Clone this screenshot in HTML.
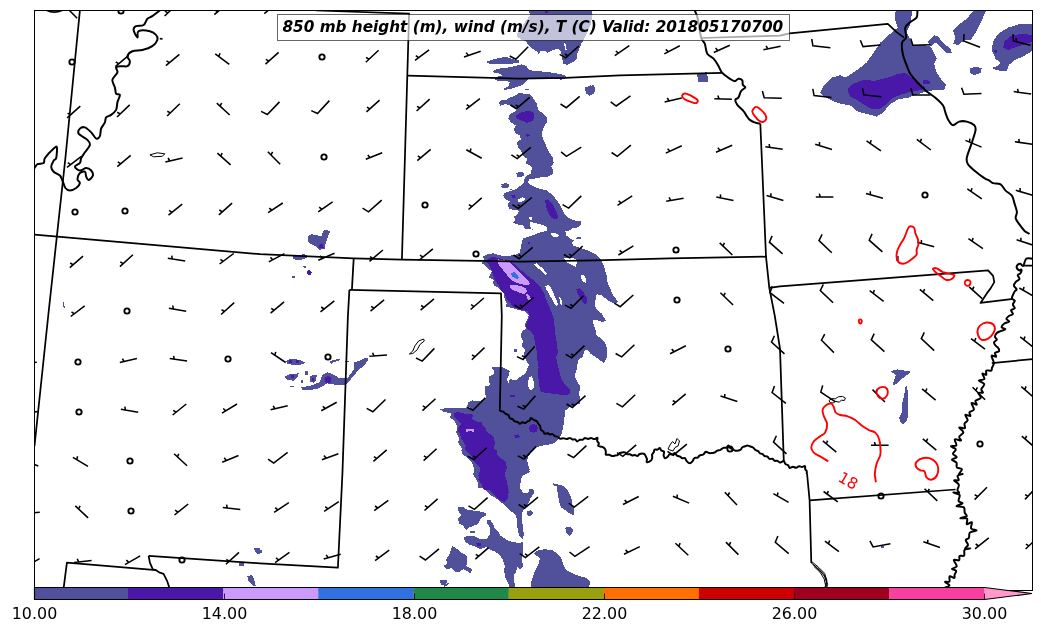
<!DOCTYPE html>
<html><head><meta charset="utf-8"><title>850 mb</title>
<style>html,body{margin:0;padding:0;background:#fff;overflow:hidden}body{width:1041px;height:633px;position:relative}</style></head>
<body>
<svg width="1041" height="633" viewBox="0 0 1041 633" style="position:absolute;left:0;top:0;will-change:transform">
<rect width="1041" height="633" fill="#fff"/>
<defs><clipPath id="ax"><rect x="34.5" y="10.5" width="998" height="580"/></clipPath></defs>
<g clip-path="url(#ax)">
<path d="M528.9 9.1 L529.9 15.2 L524.9 22.2 L517.8 32.3 L516.8 36.4 L520.8 39.4 L525.9 41.4 L528.9 45.5 L532.0 48.5 L537.0 51.5 L539.0 54.6 L540.0 50.5 L545.1 50.5 L547.1 53.0 L552.2 50.5 L558.2 48.5 L561.3 52.5 L562.3 58.6 L563.3 63.7 L567.3 65.1 L573.4 61.6 L577.4 58.6 L577.0 53.6 L579.5 48.5 L581.5 43.5 L585.5 36.4 L590.6 24.3 L592.6 14.1 L591.6 9.1 Z" fill="#50509b" fill-rule="evenodd" shape-rendering="crispEdges"/>
<path d="M486.9 61.6 L492.5 59.6 L500.6 57.6 L506.7 57.2 L513.8 59.6 L519.8 60.6 L518.8 63.1 L510.7 63.7 L500.6 64.3 L492.5 64.3 L487.5 63.1 Z" fill="#50509b" fill-rule="evenodd" shape-rendering="crispEdges"/>
<path d="M493.0 70.7 L498.6 68.7 L506.7 67.7 L516.8 65.7 L521.9 64.3 L525.9 65.7 L528.9 69.7 L535.0 71.1 L545.1 71.7 L555.2 73.2 L565.3 75.2 L566.9 77.8 L561.3 79.8 L553.2 78.4 L541.1 77.8 L535.0 78.4 L528.9 77.8 L526.9 80.8 L522.9 84.9 L516.8 86.9 L510.7 88.9 L504.7 89.9 L503.7 88.9 L508.7 85.9 L509.7 81.9 L504.7 80.8 L498.6 80.8 L494.6 79.8 L496.6 76.8 L502.7 75.2 L498.6 73.2 L493.6 72.4 Z" fill="#50509b" fill-rule="evenodd" shape-rendering="crispEdges"/>
<path d="M524.9 88.5 L528.9 88.5 L528.9 89.5 L524.9 89.5 Z" fill="#50509b" fill-rule="evenodd" shape-rendering="crispEdges"/>
<path d="M585.1 88.9 L588.5 85.9 L593.6 85.3 L595.2 88.9 L593.6 93.4 L589.6 95.4 L585.9 93.0 Z" fill="#50509b" fill-rule="evenodd" shape-rendering="crispEdges"/>
<path d="M519.8 92.4 L524.9 94.0 L529.9 94.4 L534.0 99.1 L537.0 104.1 L538.0 110.2 L543.1 113.2 L547.1 117.3 L546.7 122.3 L544.1 126.4 L542.1 132.4 L542.7 138.5 L545.1 142.5 L547.1 148.6 L550.1 153.7 L553.2 157.7 L553.6 162.8 L551.2 166.8 L553.2 170.8 L552.8 173.9 L548.1 176.5 L541.1 177.3 L535.0 178.5 L529.9 178.9 L527.9 182.0 L528.9 185.0 L534.0 188.0 L540.0 189.0 L546.1 190.0 L550.1 193.1 L554.2 197.1 L558.2 202.2 L561.3 208.2 L564.3 215.3 L565.3 217.9 L513.8 217.9 L517.8 213.3 L519.8 209.2 L514.8 208.2 L509.7 209.2 L507.7 205.2 L510.7 201.2 L506.7 200.1 L503.1 197.1 L506.7 194.1 L512.8 192.1 L517.8 189.0 L521.9 186.0 L524.9 184.0 L523.9 179.9 L525.9 175.9 L530.9 173.9 L532.0 167.8 L528.9 164.8 L525.9 163.8 L526.9 158.7 L522.9 155.7 L520.8 150.6 L517.8 146.6 L516.8 142.5 L520.8 139.5 L519.8 135.5 L515.8 133.5 L513.8 129.4 L515.8 125.4 L510.7 122.3 L508.3 118.3 L509.7 114.3 L513.8 112.2 L517.8 109.2 L513.8 107.2 L509.7 105.2 L504.7 104.1 L500.6 105.8 L499.0 103.1 L500.6 100.5 L505.7 100.1 L509.7 97.7 L514.8 95.7 Z" fill="#50509b" fill-rule="evenodd" shape-rendering="crispEdges"/>
<path d="M516.4 173.3 L519.8 171.9 L523.3 172.5 L523.9 175.3 L520.8 177.3 L517.2 176.5 Z" fill="#50509b" fill-rule="evenodd" shape-rendering="crispEdges"/>
<path d="M501.0 186.0 L504.7 183.4 L508.7 184.0 L509.7 186.0 L505.7 188.4 L502.2 188.0 Z" fill="#50509b" fill-rule="evenodd" shape-rendering="crispEdges"/>
<path d="M509.7 189.0 L511.7 189.0 L511.7 190.0 L509.7 190.0 Z" fill="#50509b" fill-rule="evenodd" shape-rendering="crispEdges"/>
<path d="M526.9 180.0 L528.9 184.0 L535.0 187.1 L541.1 189.1 L547.1 191.1 L551.2 195.2 L556.2 199.2 L561.3 207.3 L564.3 213.3 L569.3 218.4 L574.4 220.4 L580.5 221.4 L581.1 224.5 L577.4 227.5 L572.4 228.5 L569.3 230.5 L565.3 231.5 L566.3 235.6 L570.4 238.6 L574.4 240.6 L571.4 242.7 L573.4 245.7 L579.5 247.7 L585.5 249.7 L590.6 251.7 L595.6 254.4 L599.7 257.8 L602.7 262.9 L604.7 268.9 L606.7 276.0 L607.7 283.1 L610.8 290.1 L613.8 296.2 L617.8 301.3 L615.8 303.3 L610.8 302.3 L606.7 299.2 L601.7 295.2 L596.6 294.2 L595.6 299.2 L594.6 304.3 L593.6 307.9 L510.7 307.9 L506.7 303.3 L504.7 299.2 L503.7 293.2 L500.6 290.1 L497.6 287.1 L493.0 285.1 L495.6 283.1 L493.6 280.0 L488.5 277.0 L491.5 275.0 L493.0 272.0 L488.5 268.9 L485.5 265.9 L481.4 262.9 L484.5 259.8 L482.8 256.4 L487.5 254.4 L493.0 253.2 L497.6 254.8 L502.7 255.8 L508.7 255.8 L514.8 254.8 L519.8 252.8 L520.8 247.7 L521.9 242.7 L522.9 238.6 L526.9 237.0 L532.0 235.6 L537.0 233.6 L535.0 231.5 L530.9 228.5 L524.9 228.5 L522.9 225.5 L517.8 224.5 L512.8 222.4 L515.2 220.4 L513.8 216.4 L517.8 214.4 L520.8 212.3 L517.8 210.3 L510.7 209.3 L507.7 206.3 L508.7 202.2 L511.7 200.2 L507.7 198.2 L503.1 196.2 L504.7 193.1 L510.7 191.1 L515.8 189.1 L519.8 186.1 L523.9 183.0 Z" fill="#50509b" fill-rule="evenodd" shape-rendering="crispEdges"/>
<path d="M575.4 237.6 L580.5 237.2 L580.9 239.0 L575.8 239.2 Z" fill="#50509b" fill-rule="evenodd" shape-rendering="crispEdges"/>
<path d="M492.1 270.0 L604.9 270.0 L607.7 283.1 L610.8 290.2 L613.8 296.3 L617.8 301.3 L615.8 303.3 L610.8 302.3 L606.7 299.3 L601.7 295.3 L596.6 294.3 L595.6 299.3 L594.6 304.4 L596.6 309.4 L601.7 313.5 L605.7 320.5 L602.7 322.1 L597.6 320.5 L592.6 319.5 L593.6 324.6 L595.6 330.6 L596.6 335.7 L601.7 338.7 L605.7 343.8 L607.3 350.8 L606.7 357.9 L603.7 363.0 L599.7 359.9 L595.6 356.9 L590.6 353.9 L587.5 349.8 L584.5 350.8 L582.5 356.9 L578.4 359.9 L577.4 365.0 L576.4 371.1 L574.4 375.1 L576.4 380.1 L579.5 385.2 L580.5 390.3 L577.4 393.3 L574.4 395.3 L571.4 397.9 L486.5 397.9 L484.5 391.3 L485.5 386.2 L490.5 385.2 L488.5 380.1 L488.5 376.1 L493.0 375.1 L494.6 371.1 L491.5 367.4 L498.6 366.6 L504.7 368.0 L509.7 371.1 L508.7 375.1 L506.7 380.1 L508.7 383.2 L509.7 379.1 L515.8 380.1 L519.8 377.1 L524.9 374.1 L526.9 370.0 L528.9 365.0 L525.9 359.9 L523.9 354.9 L524.9 349.8 L521.9 345.8 L522.9 340.7 L520.8 336.7 L521.9 331.6 L525.9 328.6 L524.9 324.6 L526.9 320.5 L528.9 315.5 L524.9 311.4 L516.8 309.4 L509.7 307.4 L505.7 306.4 L506.7 303.3 L504.7 299.3 L503.7 293.2 L500.6 290.2 L497.6 286.2 L493.0 284.1 L493.6 280.1 L489.5 277.1 Z" fill="#50509b" fill-rule="evenodd" shape-rendering="crispEdges"/>
<path d="M514.4 349.2 L517.2 349.2 L517.2 351.9 L514.4 351.9 Z" fill="#50509b" fill-rule="evenodd" shape-rendering="crispEdges"/>
<path d="M485.5 390.3 L486.1 397.4 L481.4 400.4 L477.4 401.4 L472.3 400.4 L468.3 402.4 L467.3 405.5 L470.3 408.1 L460.2 408.5 L452.1 408.1 L444.0 408.5 L440.0 409.5 L444.0 412.1 L451.1 413.0 L450.1 417.6 L454.1 420.6 L457.2 426.7 L456.2 432.8 L459.2 437.8 L458.2 442.9 L462.2 448.9 L465.3 455.0 L468.3 459.0 L472.3 463.1 L474.4 469.1 L473.3 475.2 L477.4 481.3 L478.4 487.9 L519.8 487.9 L520.8 481.3 L521.9 476.2 L525.9 474.2 L529.9 472.2 L528.9 469.1 L526.9 463.1 L527.9 457.0 L532.0 450.9 L537.0 446.9 L541.1 445.9 L547.1 444.9 L554.2 443.3 L558.2 439.8 L561.3 434.8 L563.3 426.7 L564.3 418.6 L565.3 410.5 L569.3 407.5 L575.4 405.5 L579.5 403.5 L579.5 396.4 L578.4 390.3 Z" fill="#50509b" fill-rule="evenodd" shape-rendering="crispEdges"/>
<path d="M528.9 450.0 L526.9 458.1 L527.9 464.1 L529.9 470.2 L525.9 473.2 L521.9 476.3 L519.8 482.3 L520.4 488.4 L522.9 492.4 L527.9 493.5 L529.9 488.4 L533.4 489.4 L534.0 493.5 L530.9 497.5 L528.9 502.5 L524.9 508.6 L521.9 512.7 L521.9 518.7 L522.9 526.8 L523.9 534.9 L522.9 538.9 L519.8 536.9 L517.8 530.8 L516.8 522.8 L516.4 515.7 L512.8 512.7 L507.7 508.6 L502.7 503.6 L497.6 499.5 L491.5 495.5 L486.5 491.4 L482.4 487.4 L479.4 483.3 L476.4 479.3 L473.3 474.3 L474.4 469.2 L473.3 464.1 L470.3 460.1 L466.3 457.1 L462.2 454.0 L461.2 450.0 Z" fill="#50509b" fill-rule="evenodd" shape-rendering="crispEdges"/>
<path d="M526.9 511.6 L530.9 510.2 L533.0 513.1 L529.9 516.3 L526.9 515.1 Z" fill="#50509b" fill-rule="evenodd" shape-rendering="crispEdges"/>
<path d="M553.2 483.3 L557.2 484.4 L561.3 484.8 L566.3 488.4 L569.3 493.5 L571.4 498.5 L572.4 504.6 L574.4 509.6 L574.4 514.7 L570.4 514.3 L566.3 510.6 L561.3 507.6 L559.2 502.5 L558.2 496.5 L557.2 490.4 L556.8 486.4 L553.6 485.4 Z" fill="#50509b" fill-rule="evenodd" shape-rendering="crispEdges"/>
<path d="M565.3 527.8 L569.3 526.8 L573.0 528.8 L572.4 533.3 L569.3 535.9 L566.3 532.9 Z" fill="#50509b" fill-rule="evenodd" shape-rendering="crispEdges"/>
<path d="M457.2 507.6 L462.2 506.6 L467.3 509.6 L473.3 510.6 L480.4 511.6 L486.5 513.1 L485.5 515.7 L480.4 518.7 L478.4 523.8 L473.3 525.8 L468.3 527.8 L466.3 529.8 L463.2 525.8 L459.2 523.8 L457.8 518.7 L461.2 515.7 L459.2 512.2 Z" fill="#50509b" fill-rule="evenodd" shape-rendering="crispEdges"/>
<path d="M486.5 519.7 L490.5 520.3 L493.6 524.8 L494.6 527.8 L497.6 530.8 L500.6 535.9 L506.7 539.9 L512.8 542.0 L519.8 543.0 L522.9 542.0 L522.5 547.0 L523.3 553.1 L521.9 559.1 L522.9 566.2 L519.8 569.2 L516.8 566.2 L516.4 571.3 L513.8 575.3 L514.4 581.0 L514.8 587.0 L509.7 587.0 L507.7 582.0 L505.1 576.9 L504.3 571.3 L504.7 565.2 L502.7 559.1 L499.6 555.1 L494.6 551.1 L490.5 550.0 L486.5 547.0 L480.4 549.0 L476.4 547.0 L470.3 545.0 L465.3 542.0 L463.2 537.9 L467.3 535.9 L473.3 535.9 L480.4 538.9 L486.5 538.9 L489.5 534.9 L490.5 529.8 L488.5 524.8 L486.5 522.4 Z" fill="#50509b" fill-rule="evenodd" shape-rendering="crispEdges"/>
<path d="M452.1 546.0 L457.2 549.0 L462.2 553.1 L466.3 555.1 L467.3 561.2 L466.3 566.2 L472.3 569.2 L470.3 573.3 L467.3 571.3 L463.2 569.2 L459.2 572.3 L454.1 571.3 L452.1 568.2 L446.1 569.2 L443.6 566.2 L447.1 563.2 L446.1 559.1 L449.1 555.1 L451.1 550.0 Z" fill="#50509b" fill-rule="evenodd" shape-rendering="crispEdges"/>
<path d="M470.3 530.8 L475.4 530.8 L475.4 533.3 L470.3 533.3 Z" fill="#50509b" fill-rule="evenodd" shape-rendering="crispEdges"/>
<path d="M530.9 588.1 L531.4 581.1 L533.4 575.0 L536.0 568.9 L539.0 562.9 L540.0 557.8 L536.6 555.8 L534.0 553.2 L538.0 550.3 L545.1 549.1 L552.2 550.3 L557.2 553.2 L561.3 558.4 L563.3 564.9 L566.3 569.9 L571.4 573.0 L579.5 576.0 L586.5 578.0 L590.0 581.1 L589.2 588.1 Z" fill="#50509b" fill-rule="evenodd" shape-rendering="crispEdges"/>
<path d="M440.0 580.0 L444.0 580.6 L443.0 583.1 L440.0 583.5 Z" fill="#50509b" fill-rule="evenodd" shape-rendering="crispEdges"/>
<path d="M444.0 584.1 L449.1 583.1 L447.1 586.1 L444.4 586.7 Z" fill="#50509b" fill-rule="evenodd" shape-rendering="crispEdges"/>
<path d="M895.8 9.5 L894.8 18.8 L897.8 27.6 L890.3 33.8 L880.3 42.6 L872.8 53.9 L866.5 62.7 L855.2 71.4 L845.2 77.7 L840.2 75.2 L831.4 77.7 L823.9 85.2 L820.1 92.8 L826.4 97.8 L833.9 101.5 L841.4 104.0 L850.2 105.3 L857.7 111.6 L867.7 114.1 L876.5 116.6 L882.8 112.8 L890.3 104.0 L899.1 99.0 L907.9 97.8 L917.9 94.0 L926.7 91.5 L934.2 90.2 L944.2 90.2 L946.0 84.0 L941.7 80.2 L936.7 72.7 L934.2 63.9 L936.7 58.9 L933.4 51.4 L930.4 46.4 L924.1 45.1 L912.9 45.1 L909.1 37.6 L906.6 32.6 L910.4 23.8 L912.4 9.5 Z" fill="#50509b" fill-rule="evenodd" shape-rendering="crispEdges"/>
<path d="M927.9 41.4 L934.2 35.1 L937.9 36.3 L942.9 42.6 L950.5 48.9 L951.7 52.6 L946.7 53.1 L940.4 46.4 L935.4 42.6 L930.4 46.4 Z" fill="#50509b" fill-rule="evenodd" shape-rendering="crispEdges"/>
<path d="M974.3 9.5 L966.8 18.8 L958.0 25.1 L953.0 30.1 L955.5 37.6 L953.0 43.9 L958.0 45.1 L964.3 40.1 L970.5 40.1 L975.5 32.6 L980.6 22.6 L986.8 9.5 Z" fill="#50509b" fill-rule="evenodd" shape-rendering="crispEdges"/>
<path d="M1033.7 23.8 L1020.7 23.8 L1008.1 27.6 L998.1 33.8 L993.1 41.4 L991.8 50.1 L995.6 58.9 L1000.6 62.7 L996.8 66.4 L991.8 67.7 L995.6 70.2 L1006.9 71.4 L1008.6 65.2 L1014.4 60.2 L1023.2 56.4 L1033.7 50.1 Z" fill="#50509b" fill-rule="evenodd" shape-rendering="crispEdges"/>
<path d="M969.8 67.7 L978.0 67.2 L981.8 68.2 L980.6 72.7 L974.3 75.2 L969.8 72.7 Z" fill="#50509b" fill-rule="evenodd" shape-rendering="crispEdges"/>
<path d="M697.3 72.9 L707.3 72.4 L707.8 81.9 L697.8 81.9 Z" fill="#50509b" fill-rule="evenodd" shape-rendering="crispEdges"/>
<path d="M585.4 87.4 L590.4 85.4 L594.9 87.4 L594.4 93.7 L589.4 95.7 L585.7 92.9 Z" fill="#50509b" fill-rule="evenodd" shape-rendering="crispEdges"/>
<path d="M307.5 236.7 L311.2 234.2 L316.2 234.9 L321.2 236.7 L323.7 230.4 L326.9 229.9 L329.9 231.7 L327.4 237.9 L325.4 244.2 L325.4 248.4 L319.9 249.9 L314.9 245.9 L308.7 242.9 Z" fill="#50509b" fill-rule="evenodd" shape-rendering="crispEdges"/>
<path d="M292.5 256.7 L297.5 254.9 L305.0 254.2 L308.7 256.7 L303.7 259.1 L297.5 260.4 L293.7 259.1 Z" fill="#50509b" fill-rule="evenodd" shape-rendering="crispEdges"/>
<path d="M302.5 265.4 L306.2 265.9 L306.2 267.9 L303.0 267.4 Z" fill="#50509b" fill-rule="evenodd" shape-rendering="crispEdges"/>
<path d="M292.0 276.1 L295.0 276.1 L295.0 277.9 L292.0 277.9 Z" fill="#50509b" fill-rule="evenodd" shape-rendering="crispEdges"/>
<path d="M501.0 184.2 L506.0 183.0 L509.8 185.0 L507.3 188.0 L502.3 187.5 Z" fill="#50509b" fill-rule="evenodd" shape-rendering="crispEdges"/>
<path d="M517.2 173.0 L520.0 173.0 L520.0 176.7 L517.2 176.7 Z" fill="#50509b" fill-rule="evenodd" shape-rendering="crispEdges"/>
<path d="M62.4 301.6 L63.9 302.4 L64.9 307.9 L63.4 307.4 Z" fill="#50509b" fill-rule="evenodd" shape-rendering="crispEdges"/>
<path d="M286.2 361.0 L290.0 359.0 L300.0 359.7 L305.5 363.0 L300.0 364.7 L291.2 364.7 L287.0 363.5 Z" fill="#50509b" fill-rule="evenodd" shape-rendering="crispEdges"/>
<path d="M329.9 361.0 L339.9 358.5 L339.4 360.5 L333.7 362.2 L331.2 364.7 Z" fill="#50509b" fill-rule="evenodd" shape-rendering="crispEdges"/>
<path d="M344.9 360.5 L348.7 360.5 L348.7 362.0 L344.9 362.0 Z" fill="#50509b" fill-rule="evenodd" shape-rendering="crispEdges"/>
<path d="M347.4 378.4 L353.7 369.7 L354.4 362.2 L359.9 360.5 L367.4 357.2 L367.9 360.5 L363.6 366.0 L358.7 369.7 L353.7 375.9 L346.2 384.7 L334.9 384.7 L327.4 383.4 L318.7 388.4 L308.7 390.4 L302.5 389.7 L301.2 387.2 L310.0 385.9 L319.9 382.2 L322.4 374.7 L327.4 372.2 L333.7 374.7 L339.9 378.4 Z" fill="#50509b" fill-rule="evenodd" shape-rendering="crispEdges"/>
<path d="M284.2 377.2 L290.0 373.9 L298.7 373.4 L297.5 377.2 L293.7 380.9 L287.5 379.7 Z" fill="#50509b" fill-rule="evenodd" shape-rendering="crispEdges"/>
<path d="M310.0 375.9 L316.9 374.7 L316.2 379.7 L313.7 382.9 L310.0 381.4 Z" fill="#50509b" fill-rule="evenodd" shape-rendering="crispEdges"/>
<path d="M304.5 371.4 L307.5 371.4 L307.5 374.7 L304.5 374.7 Z" fill="#50509b" fill-rule="evenodd" shape-rendering="crispEdges"/>
<path d="M289.5 385.9 L293.7 385.9 L293.7 387.4 L289.5 387.4 Z" fill="#50509b" fill-rule="evenodd" shape-rendering="crispEdges"/>
<path d="M301.2 380.4 L303.0 380.4 L303.0 382.9 L301.2 382.9 Z" fill="#50509b" fill-rule="evenodd" shape-rendering="crispEdges"/>
<path d="M439.8 580.9 L447.3 580.1 L446.1 585.1 L441.1 585.1 Z" fill="#50509b" fill-rule="evenodd" shape-rendering="crispEdges"/>
<path d="M260.0 550.2 L262.0 550.2 L262.0 552.7 L260.0 552.7 Z" fill="#50509b" fill-rule="evenodd" shape-rendering="crispEdges"/>
<path d="M253.5 547.7 L260.0 547.7 L260.0 553.9 L256.0 553.4 Z" fill="#50509b" fill-rule="evenodd" shape-rendering="crispEdges"/>
<path d="M239.3 562.7 L243.5 562.7 L243.5 566.4 L239.3 566.4 Z" fill="#50509b" fill-rule="evenodd" shape-rendering="crispEdges"/>
<path d="M247.3 575.9 L252.2 575.1 L254.2 580.1 L256.0 586.4 L252.2 585.1 L248.5 581.4 Z" fill="#50509b" fill-rule="evenodd" shape-rendering="crispEdges"/>
<path d="M890.3 371.2 L897.8 369.4 L911.6 371.7 L905.3 376.2 L900.3 379.9 L896.6 384.2 L892.8 384.9 L894.1 379.9 L895.8 374.9 Z" fill="#50509b" fill-rule="evenodd" shape-rendering="crispEdges"/>
<path d="M906.0 384.1 L907.5 390.3 L908.1 398.5 L907.5 406.7 L908.1 414.9 L907.0 421.1 L902.9 424.1 L899.9 422.1 L899.2 417.0 L901.9 412.9 L901.9 404.6 L904.0 396.4 L905.0 389.2 Z" fill="#50509b" fill-rule="evenodd" shape-rendering="crispEdges"/>
<path d="M895.8 256.3 L899.1 256.3 L899.1 260.8 L895.8 260.8 Z" fill="#50509b" fill-rule="evenodd" shape-rendering="crispEdges"/>
<path d="M881.3 545.7 L883.5 545.7 L883.5 548.0 L881.3 548.0 Z" fill="#50509b" fill-rule="evenodd" shape-rendering="crispEdges"/>
<path d="M564.1 43.5 L565.3 43.0 L566.7 49.5 L565.3 49.9 Z" fill="#ffffff" fill-rule="evenodd" shape-rendering="crispEdges"/>
<path d="M517.8 199.2 L522.9 197.2 L525.9 199.2 L521.9 201.8 L518.4 202.2 Z" fill="#ffffff" fill-rule="evenodd" shape-rendering="crispEdges"/>
<path d="M528.9 216.4 L532.0 217.4 L531.4 220.4 L529.3 219.4 Z" fill="#ffffff" fill-rule="evenodd" shape-rendering="crispEdges"/>
<path d="M530.5 222.0 L537.0 223.5 L544.1 225.5 L547.1 226.9 L546.7 230.5 L542.1 232.1 L536.6 233.0 L534.0 230.5 L531.4 228.5 L529.9 225.5 Z" fill="#ffffff" fill-rule="evenodd" shape-rendering="crispEdges"/>
<path d="M550.1 233.6 L555.2 232.5 L559.2 235.6 L557.2 237.6 L552.2 236.2 Z" fill="#ffffff" fill-rule="evenodd" shape-rendering="crispEdges"/>
<path d="M534.0 263.9 L537.0 263.3 L543.1 268.9 L547.1 274.0 L545.1 275.0 L540.0 269.9 L535.0 265.9 Z" fill="#ffffff" fill-rule="evenodd" shape-rendering="crispEdges"/>
<path d="M572.4 262.5 L576.4 263.9 L575.4 266.9 L572.4 264.9 Z" fill="#ffffff" fill-rule="evenodd" shape-rendering="crispEdges"/>
<path d="M580.5 275.0 L583.5 274.6 L585.9 279.0 L585.5 283.1 L582.5 281.1 L581.1 278.0 Z" fill="#ffffff" fill-rule="evenodd" shape-rendering="crispEdges"/>
<path d="M545.1 286.1 L549.1 285.1 L552.2 290.1 L555.2 297.2 L558.2 304.3 L556.2 306.3 L553.2 301.3 L549.1 294.2 L546.1 289.1 Z" fill="#ffffff" fill-rule="evenodd" shape-rendering="crispEdges"/>
<path d="M559.2 297.2 L561.3 299.2 L562.3 305.3 L560.3 304.3 Z" fill="#ffffff" fill-rule="evenodd" shape-rendering="crispEdges"/>
<path d="M528.9 377.1 L532.0 376.1 L534.0 383.2 L533.4 389.2 L529.9 390.3 L527.9 385.2 Z" fill="#ffffff" fill-rule="evenodd" shape-rendering="crispEdges"/>
<path d="M564.2 258.2 L570.6 257.4 L576.1 259.0 L576.9 263.7 L574.5 266.4 L570.6 264.5 L565.8 261.7 Z" fill="#ffffff" fill-rule="evenodd" shape-rendering="crispEdges"/>
<path d="M544.1 9.1 L549.1 9.1 L548.1 13.1 L544.7 12.5 Z" fill="#4a18a8" fill-rule="evenodd" shape-rendering="crispEdges"/>
<path d="M515.2 115.9 L520.8 112.6 L528.9 110.6 L534.0 113.2 L534.6 117.3 L532.0 121.3 L526.9 122.7 L520.8 120.3 L516.8 118.3 Z" fill="#4a18a8" fill-rule="evenodd" shape-rendering="crispEdges"/>
<path d="M525.9 134.1 L528.9 133.7 L529.9 136.1 L526.9 136.9 Z" fill="#4a18a8" fill-rule="evenodd" shape-rendering="crispEdges"/>
<path d="M511.1 195.5 L514.8 194.7 L515.8 197.5 L512.8 198.7 Z" fill="#4a18a8" fill-rule="evenodd" shape-rendering="crispEdges"/>
<path d="M545.1 200.2 L548.1 199.2 L551.2 202.2 L554.2 207.3 L557.2 213.3 L558.2 217.4 L555.2 219.4 L551.2 217.4 L548.1 212.3 L546.1 206.3 Z" fill="#4a18a8" fill-rule="evenodd" shape-rendering="crispEdges"/>
<path d="M527.9 241.6 L529.9 241.6 L529.9 243.7 L527.9 243.7 Z" fill="#4a18a8" fill-rule="evenodd" shape-rendering="crispEdges"/>
<path d="M486.9 259.9 L492.5 256.9 L498.6 257.9 L504.7 259.9 L510.7 261.9 L515.8 264.9 L520.8 270.0 L526.9 275.1 L532.0 279.1 L537.0 283.1 L541.1 288.2 L544.1 293.2 L546.1 299.3 L549.1 306.4 L552.2 313.5 L554.2 320.5 L554.8 330.6 L556.2 338.7 L557.2 346.8 L558.2 352.9 L556.2 356.9 L557.2 363.0 L559.2 371.1 L561.3 379.1 L565.3 385.2 L570.4 390.3 L569.3 394.3 L563.3 395.3 L555.2 393.7 L547.1 393.3 L540.0 391.3 L539.0 383.2 L538.0 375.1 L538.6 367.0 L537.0 358.9 L536.6 350.8 L535.0 342.8 L533.4 334.7 L529.9 330.6 L525.9 327.6 L526.9 322.5 L529.9 316.5 L527.9 311.4 L520.8 309.4 L513.8 307.4 L509.7 302.3 L506.7 299.3 L504.7 294.3 L500.6 290.2 L498.6 285.2 L495.6 281.1 L493.0 275.1 L491.5 270.0 L489.5 266.0 L487.5 262.9 Z" fill="#4a18a8" fill-rule="evenodd" shape-rendering="crispEdges"/>
<path d="M576.4 289.2 L579.5 288.2 L583.5 292.2 L586.5 297.3 L587.1 302.3 L584.5 304.4 L581.5 300.3 L578.4 295.3 Z" fill="#4a18a8" fill-rule="evenodd" shape-rendering="crispEdges"/>
<path d="M509.7 395.4 L514.8 395.4 L514.8 396.6 L509.7 396.6 Z" fill="#4a18a8" fill-rule="evenodd" shape-rendering="crispEdges"/>
<path d="M454.2 412.8 L458.5 412.1 L464.2 413.5 L470.6 413.5 L473.4 415.6 L472.0 418.5 L475.6 421.3 L481.3 422.0 L482.7 424.9 L485.5 427.7 L486.9 432.0 L490.5 434.1 L494.1 437.7 L494.8 442.7 L494.1 447.7 L496.2 452.6 L496.9 456.9 L502.6 459.0 L506.1 462.6 L506.9 468.3 L505.4 472.5 L503.3 476.8 L502.6 481.1 L506.9 485.3 L509.0 490.0 L484.1 490.0 L481.3 483.9 L478.4 479.7 L479.1 476.1 L482.0 472.5 L481.3 469.0 L478.4 465.4 L474.9 462.6 L472.7 458.3 L470.6 454.8 L467.7 451.9 L464.9 449.1 L465.6 445.5 L463.5 442.0 L461.3 438.4 L459.9 434.1 L457.8 430.6 L459.2 426.3 L461.3 424.2 L459.2 421.3 L456.4 418.5 L453.5 416.4 Z" fill="#4a18a8" fill-rule="evenodd" shape-rendering="crispEdges"/>
<path d="M528.9 428.3 L530.3 425.1 L533.4 423.9 L536.6 425.1 L538.0 428.3 L536.6 431.7 L533.4 432.8 L530.3 431.7 Z" fill="#4a18a8" fill-rule="evenodd" shape-rendering="crispEdges"/>
<path d="M514.4 435.2 L517.8 434.4 L519.8 436.4 L517.8 438.4 L514.8 437.8 Z" fill="#4a18a8" fill-rule="evenodd" shape-rendering="crispEdges"/>
<path d="M483.5 450.0 L481.4 456.1 L479.4 464.1 L480.4 469.2 L478.4 475.3 L480.4 480.3 L484.5 485.4 L489.5 490.4 L494.6 495.5 L500.6 500.5 L504.7 502.1 L507.7 498.5 L508.7 492.4 L507.7 486.4 L506.7 480.3 L504.7 474.3 L506.7 467.2 L505.7 462.1 L501.6 459.1 L497.6 455.1 L496.6 450.0 Z" fill="#4a18a8" fill-rule="evenodd" shape-rendering="crispEdges"/>
<path d="M476.4 543.0 L481.4 542.6 L481.4 546.0 L476.8 546.0 Z" fill="#4a18a8" fill-rule="evenodd" shape-rendering="crispEdges"/>
<path d="M847.7 89.0 L852.7 84.0 L862.7 80.2 L875.3 80.7 L887.8 77.7 L897.8 74.0 L905.3 72.7 L911.6 77.7 L920.4 84.0 L925.4 87.7 L920.4 90.2 L911.6 91.5 L902.8 94.0 L892.8 97.8 L885.3 105.3 L879.0 109.0 L871.5 109.0 L865.2 105.3 L857.7 100.3 L850.2 96.5 L847.7 91.5 Z" fill="#4a18a8" fill-rule="evenodd" shape-rendering="crispEdges"/>
<path d="M922.9 80.2 L930.4 80.7 L930.4 84.0 L923.4 83.5 Z" fill="#4a18a8" fill-rule="evenodd" shape-rendering="crispEdges"/>
<path d="M1033.7 35.1 L1020.7 33.8 L1010.6 36.3 L1004.4 41.4 L1003.1 47.6 L1008.1 50.1 L1018.2 46.4 L1033.7 41.4 Z" fill="#4a18a8" fill-rule="evenodd" shape-rendering="crispEdges"/>
<path d="M994.3 49.6 L996.8 49.6 L997.1 53.1 L994.6 53.1 Z" fill="#4a18a8" fill-rule="evenodd" shape-rendering="crispEdges"/>
<path d="M318.7 244.7 L323.2 244.2 L323.7 247.9 L319.4 248.4 Z" fill="#4a18a8" fill-rule="evenodd" shape-rendering="crispEdges"/>
<path d="M307.5 270.6 L310.0 270.1 L311.9 272.4 L310.9 274.6 L308.5 274.9 L307.0 272.9 Z" fill="#4a18a8" fill-rule="evenodd" shape-rendering="crispEdges"/>
<path d="M288.5 360.2 L291.5 360.2 L291.5 363.0 L288.5 363.0 Z" fill="#4a18a8" fill-rule="evenodd" shape-rendering="crispEdges"/>
<path d="M296.0 360.2 L299.0 360.2 L299.0 363.0 L296.0 363.0 Z" fill="#4a18a8" fill-rule="evenodd" shape-rendering="crispEdges"/>
<path d="M324.4 379.7 L325.4 377.2 L327.9 376.2 L330.4 377.2 L331.4 379.7 L330.4 382.2 L327.9 383.2 L325.4 382.2 Z" fill="#4a18a8" fill-rule="evenodd" shape-rendering="crispEdges"/>
<path d="M290.5 375.4 L293.5 375.4 L293.5 378.2 L290.5 378.2 Z" fill="#4a18a8" fill-rule="evenodd" shape-rendering="crispEdges"/>
<path d="M311.7 378.4 L314.2 378.4 L314.2 380.9 L311.7 380.9 Z" fill="#4a18a8" fill-rule="evenodd" shape-rendering="crispEdges"/>
<path d="M497.6 259.3 L502.7 259.9 L509.7 261.9 L514.8 267.0 L519.8 272.0 L524.9 277.1 L528.9 281.1 L529.9 284.1 L526.9 285.6 L521.9 284.1 L516.8 283.1 L512.8 281.1 L508.7 277.1 L504.7 272.0 L500.6 267.0 L497.6 262.9 Z" fill="#cc99ff" fill-rule="evenodd" shape-rendering="crispEdges"/>
<path d="M509.7 285.2 L514.8 284.8 L520.8 286.2 L525.9 288.2 L526.9 291.2 L524.9 294.3 L520.8 293.2 L515.8 291.2 L511.7 289.2 L509.7 287.2 Z" fill="#cc99ff" fill-rule="evenodd" shape-rendering="crispEdges"/>
<path d="M525.9 293.2 L528.9 295.3 L531.4 299.3 L529.9 301.3 L526.9 298.3 Z" fill="#cc99ff" fill-rule="evenodd" shape-rendering="crispEdges"/>
<path d="M466.3 429.1 L474.0 429.1 L474.0 432.4 L471.3 431.1 L468.3 431.1 L466.3 432.4 Z" fill="#cc99ff" fill-rule="evenodd" shape-rendering="crispEdges"/>
<path d="M511.1 273.4 L513.8 272.0 L516.8 274.0 L518.8 277.1 L517.8 279.1 L514.4 278.1 L511.7 276.1 Z" fill="#3070e0" fill-rule="evenodd" shape-rendering="crispEdges"/>
<g fill="none" stroke="#000" stroke-width="1.75" stroke-linejoin="round" stroke-linecap="butt">
<path d="M79.9 10.5 L65.4 158.0 L48.2 316.0 L34.5 445.9"/>
<path d="M34.5 234.7 L260.0 254.2 L353.7 258.4 L401.9 259.7 L520.0 261.6 L594.9 260.4 L669.9 258.4 L766.0 256.7"/>
<path d="M316.2 10.5 L409.1 13.7 L404.9 158.0 L401.9 259.7"/>
<path d="M407.4 75.7 L520.0 78.7 L565.0 77.9 L619.9 75.4 L722.3 72.9"/>
<path d="M353.7 258.4 L351.9 289.9"/>
<path d="M349.4 289.9 L347.9 316.0 L342.4 474.0 L337.9 567.7 L260.0 563.4 L148.6 555.9"/>
<path d="M349.4 289.9 L501.0 293.4 L501.8 316.0 L499.8 410.9"/>
<path d="M148.6 555.9 L149.9 562.7 L152.8 569.4 L156.1 570.2"/>
<path d="M63.7 587.6 L66.9 562.7 L156.1 570.2 L159.8 572.7 L163.6 573.9 L167.3 581.4 L169.3 587.6"/>
<path d="M760.3 123.6 L761.8 158.0 L766.0 256.7 L769.3 287.9 L774.8 316.0 L780.0 348.6 L783.8 461.4"/>
<path d="M769.3 287.9 L780.0 286.4 L988.1 270.3 L993.1 275.8 L994.3 282.1 L990.6 288.4 L986.8 293.4 L980.5 302.9 L1013.1 298.9"/>
<path d="M701.1 38.0 L780.0 35.7 L789.5 33.3 L887.8 23.8 L896.6 32.1 L904.1 37.6"/>
<path d="M991.8 363.1 L1032.7 359.1"/>
<path d="M807.1 474.0 L809.6 500.3 L811.3 563.0"/>
<path d="M809.6 500.3 L955.5 489.5"/>
<path d="M1023.3 265.7 L1032.4 265.7"/>
<path d="M46.5 10.2 Q54 13.8 62 10.4"/>
<path d="M159.8 38.6 L162.6 39.0"/>
</g>
<g fill="none" stroke="#000" stroke-width="2" stroke-linejoin="round">
<path d="M694.8 10.5 C695.3 11.9 696.8 14.2 697.8 18.7 C698.8 23.2 699.9 33.3 701.1 37.5 C702.3 41.7 703.8 41.0 704.8 43.7 C705.8 46.4 705.8 51.2 707.3 53.7 C708.8 56.2 711.7 56.6 713.6 58.7 C715.5 60.8 717.2 63.8 718.6 66.2 C720.0 68.6 720.4 70.8 722.3 72.9 C724.2 75.0 727.7 77.3 729.8 78.7 C731.9 80.1 733.3 81.2 734.8 81.2 C736.2 81.2 737.2 78.8 738.5 78.7 C739.8 78.6 741.6 79.4 742.3 80.4 C743.0 81.4 742.3 83.7 742.8 84.9 C743.3 86.1 745.6 86.4 745.3 87.4 C745.0 88.5 742.1 89.5 741.0 91.2 C739.9 92.9 739.5 96.0 738.5 97.4 C737.5 98.9 735.5 98.7 735.3 99.9 C735.1 101.2 735.9 103.0 737.3 104.9 C738.7 106.8 742.0 109.4 743.5 111.1 C745.0 112.8 745.0 113.4 746.0 114.9 C747.0 116.4 748.1 118.6 749.8 119.9 C751.5 121.2 754.2 122.3 756.0 122.9 C757.8 123.5 759.6 123.5 760.3 123.6"/>
<path d="M917.4 10.5 C917.3 11.7 917.8 15.6 916.6 17.5 C915.4 19.4 912.3 20.4 910.4 22.1 C908.5 23.8 906.0 25.0 905.3 27.6 C904.6 30.2 906.6 35.1 906.1 37.6 C905.6 40.1 902.7 39.9 902.1 42.6 C901.5 45.3 902.0 50.1 902.8 53.9 C903.5 57.7 905.3 61.9 906.6 65.2 C907.9 68.5 908.7 71.3 910.4 74.0 C912.1 76.7 914.1 78.8 916.6 81.5 C919.1 84.2 922.3 87.5 925.4 90.2 C928.5 92.9 932.5 95.3 935.4 97.8 C938.3 100.3 941.2 102.8 942.9 105.3 C944.6 107.8 944.6 110.3 945.5 112.8 C946.4 115.3 947.2 118.2 948.5 120.3 C949.8 122.4 951.2 125.1 953.0 125.3 C954.8 125.5 956.9 122.2 959.2 121.6 C961.5 121.0 964.3 121.0 966.8 121.6 C969.3 122.2 972.8 123.8 974.3 125.3 C975.8 126.8 975.9 127.5 975.5 130.4 C975.1 133.3 973.2 138.3 971.8 142.9 C970.3 147.5 967.4 154.3 966.8 157.9 C966.2 161.5 966.8 162.2 968.0 164.3 C969.2 166.4 971.6 168.2 974.3 170.5 C977.0 172.8 981.8 176.4 984.3 178.1 C986.8 179.8 987.8 179.8 989.3 180.6 C990.8 181.4 991.2 182.5 993.1 183.1 C995.0 183.7 998.5 183.1 1000.6 184.3 C1002.7 185.6 1003.7 188.7 1005.6 190.6 C1007.5 192.5 1010.4 193.5 1011.9 195.6 C1013.4 197.7 1013.6 200.4 1014.4 203.1 C1015.2 205.8 1016.7 209.4 1016.9 211.9 C1017.1 214.4 1015.3 216.1 1015.7 218.2 C1016.1 220.3 1017.9 222.3 1019.4 224.4 C1020.9 226.5 1023.1 229.3 1024.4 230.7 C1025.8 232.1 1026.7 232.2 1027.5 232.8 C1028.3 233.4 1029.2 233.8 1029.5 234.0"/>
<path d="M1032.4 258.7 C1031.4 258.7 1027.7 257.5 1026.2 258.7 C1024.7 259.9 1024.2 264.8 1023.3 265.7 C1022.3 266.6 1021.4 263.9 1020.5 263.8 C1019.6 263.7 1018.3 264.2 1017.7 264.8 C1017.1 265.4 1016.4 266.7 1016.7 267.6 C1017.0 268.6 1018.7 270.2 1019.5 270.5 C1020.3 270.8 1021.2 269.0 1021.4 269.5 C1021.6 270.0 1021.1 272.4 1020.5 273.3 C1019.9 274.2 1017.9 274.2 1017.7 275.2 C1017.5 276.1 1019.8 277.9 1019.5 279.0 C1019.2 280.1 1016.7 280.7 1015.8 281.8 C1014.9 282.9 1013.8 284.3 1013.9 285.6 C1014.0 286.9 1016.6 288.4 1016.7 289.4 C1016.9 290.3 1015.4 290.4 1014.8 291.3 C1014.2 292.2 1013.4 293.9 1012.9 295.1 C1012.4 296.3 1011.7 297.6 1012.0 298.5 C1012.3 299.4 1014.6 299.8 1014.8 300.8 C1014.9 301.8 1012.9 303.2 1012.9 304.5 C1012.9 305.8 1015.1 307.4 1014.8 308.3 C1014.5 309.2 1011.3 309.2 1011.0 310.2 C1010.7 311.1 1013.2 313.1 1012.9 314.0 C1012.6 314.9 1010.2 315.1 1009.1 315.9 C1008.0 316.7 1006.3 317.9 1006.3 318.8 C1006.3 319.8 1009.4 320.8 1009.1 321.6 C1008.8 322.4 1005.6 322.6 1004.4 323.5 C1003.1 324.4 1001.5 326.4 1001.6 327.3 C1001.8 328.2 1005.5 328.6 1005.3 329.2 C1005.1 329.8 1002.0 330.5 1000.6 331.1 C999.2 331.7 997.8 332.1 996.8 333.0 C995.8 333.9 994.9 335.6 994.9 336.7 C994.9 337.8 996.9 338.7 996.8 339.6 C996.6 340.6 994.2 341.4 994.0 342.4 C993.8 343.4 994.8 344.6 995.5 345.5 C996.2 346.4 998.0 347.6 998.5 348.0"/>
<path d="M998.5 348.0 C998.6 348.5 999.6 350.4 999.0 351.2 C998.4 352.0 995.4 352.1 994.9 353.0 C994.5 354.0 996.7 356.2 996.1 356.7 C995.6 357.1 992.0 354.8 991.6 355.9 C991.2 356.9 993.8 360.9 993.9 362.9 C994.0 364.9 992.5 366.4 992.0 367.7 C991.6 368.9 992.2 370.1 991.3 370.6 C990.3 371.1 987.1 369.9 986.3 370.6 C985.4 371.3 986.9 374.4 986.2 374.9 C985.6 375.5 982.7 373.0 982.4 373.7 C982.1 374.4 985.0 378.0 984.4 379.1 C983.8 380.2 978.9 379.7 978.8 380.5 C978.8 381.3 983.8 382.7 984.2 384.1 C984.6 385.6 981.5 387.9 981.3 389.3 C981.1 390.7 983.4 391.9 982.9 392.5 C982.4 393.1 978.7 392.1 978.3 393.0 C978.0 393.9 981.3 396.5 980.8 397.8 C980.3 399.1 976.2 399.7 975.5 400.8 C974.8 401.9 977.3 404.3 976.7 404.7 C976.1 405.1 972.1 402.3 971.6 403.1 C971.1 403.9 974.2 407.9 973.9 409.5 C973.5 411.0 970.1 411.1 969.5 412.2 C968.9 413.3 971.0 415.6 970.3 416.1 C969.6 416.5 965.7 414.1 965.3 414.8 C964.8 415.5 967.8 418.8 967.6 420.3 C967.5 421.8 965.0 422.3 964.5 423.6 C964.0 424.9 965.7 427.5 964.8 428.1 C964.0 428.8 959.4 426.8 959.2 427.5 C959.0 428.2 963.4 430.6 963.4 432.2 C963.4 433.7 959.6 435.4 959.2 436.8 C958.7 438.1 961.6 440.0 960.9 440.5 C960.2 440.9 955.6 438.6 954.8 439.4 C954.1 440.2 957.0 444.2 956.3 445.4 C955.7 446.5 950.9 445.7 950.9 446.3 C950.8 447.0 955.5 448.1 955.8 449.3 C956.2 450.6 952.9 452.5 953.0 453.8 C953.2 455.2 956.9 456.2 956.7 457.2 C956.5 458.2 951.9 458.9 951.9 459.8 C951.9 460.7 955.6 461.3 956.4 462.5 C957.3 463.8 956.0 466.1 956.9 467.3 C957.8 468.4 961.6 468.1 961.9 469.3 C962.2 470.5 958.7 473.7 958.8 474.5 C958.9 475.3 962.8 473.8 962.6 474.0 C962.4 474.2 958.2 474.7 957.6 475.7 C956.9 476.7 959.3 479.3 958.7 480.1 C958.2 480.9 954.1 479.8 954.1 480.6 C954.1 481.3 958.3 483.0 958.8 484.6 C959.4 486.1 957.4 488.6 957.4 490.0 C957.4 491.3 959.7 492.4 959.0 492.8 C958.3 493.2 953.3 492.1 953.3 492.5 C953.4 492.8 958.7 493.6 959.6 495.0 C960.4 496.4 958.1 499.6 958.6 501.0 C959.0 502.4 962.8 502.4 962.4 503.3 C962.1 504.1 956.2 505.4 956.4 506.1 C956.7 506.8 962.4 506.3 963.8 507.4 C965.1 508.4 964.2 511.1 964.7 512.6 C965.2 514.1 967.4 515.2 966.7 516.2 C966.0 517.1 960.3 517.8 960.4 518.2 C960.4 518.6 965.9 517.6 967.0 518.6 C968.1 519.6 966.1 523.5 966.9 524.2 C967.7 524.8 971.1 521.5 971.8 522.2 C972.5 522.9 970.4 527.1 971.2 528.5 C972.0 529.9 976.8 529.8 976.5 530.5 C976.3 531.2 971.1 531.4 969.9 532.6 C968.6 533.8 969.6 536.6 968.9 537.8 C968.3 539.1 965.9 538.9 965.7 540.1 C965.6 541.3 968.1 543.6 968.0 545.0 C967.8 546.4 964.8 547.8 965.1 548.4 C965.5 549.0 970.3 548.3 970.2 548.5 C970.1 548.8 965.6 548.6 964.6 549.8 C963.6 551.0 964.9 554.6 964.1 555.6 C963.3 556.6 960.5 555.1 959.6 555.9 C958.8 556.6 960.0 559.6 959.1 560.3 C958.1 561.0 954.2 559.0 953.8 560.0 C953.4 561.0 957.0 564.8 956.7 566.3 C956.4 567.8 952.1 568.2 952.0 568.9 C951.9 569.7 955.7 569.9 956.1 570.8 C956.6 571.8 954.9 573.6 954.6 574.7 C954.2 575.9 955.1 577.6 954.3 577.9 C953.4 578.1 950.4 575.7 949.6 576.3 C948.8 576.9 950.2 580.5 949.4 581.5 C948.6 582.4 945.0 581.4 945.0 582.1 C945.0 582.7 949.6 584.3 949.5 585.2 C949.5 586.2 945.4 587.5 944.6 587.9"/>
<path d="M499.8 410.9 C500.3 411.0 502.1 411.2 503.1 411.7 C504.1 412.2 504.9 413.4 505.8 413.9 C506.7 414.5 507.8 414.4 508.5 415.1 C509.2 415.7 509.0 417.3 509.7 418.0 C510.4 418.7 511.9 418.6 512.7 419.2 C513.5 419.8 513.8 421.0 514.6 421.4 C515.4 421.9 516.7 421.5 517.5 421.9 C518.4 422.3 519.0 423.7 519.8 423.8 C520.6 423.9 521.5 422.5 522.4 422.3 C523.3 422.2 524.2 423.2 525.1 423.1 C525.9 422.9 526.6 422.0 527.4 421.5 C528.1 421.1 529.0 421.0 529.6 420.5 C530.2 419.9 530.3 418.2 530.9 418.1 C531.6 418.0 532.7 419.4 533.6 419.9 C534.5 420.5 535.7 420.5 536.5 421.1 C537.3 421.8 537.8 422.9 538.4 423.8 C539.1 424.7 539.8 425.4 540.2 426.4 C540.6 427.4 540.4 429.0 540.9 429.8 C541.5 430.6 542.8 430.6 543.3 431.3 C543.9 431.9 543.8 433.5 544.5 433.8 C545.2 434.2 546.7 433.1 547.6 433.2 C548.5 433.3 549.1 434.4 549.9 434.5 C550.8 434.6 551.7 433.8 552.6 434.1 C553.4 434.3 554.0 435.7 554.8 436.1 C555.7 436.6 556.9 436.3 557.7 436.7 C558.5 437.1 558.9 438.4 559.8 438.6 C560.8 438.9 562.2 438.1 563.3 438.2 C564.4 438.2 565.5 439.0 566.6 439.0 C567.7 439.0 569.0 438.0 570.0 438.1 C570.9 438.1 571.5 439.3 572.3 439.5 C573.2 439.7 574.3 439.1 575.2 439.4 C576.0 439.7 576.5 441.4 577.2 441.5 C578.0 441.5 578.9 440.0 579.8 439.7 C580.7 439.4 581.8 440.1 582.6 439.8 C583.5 439.5 583.9 438.1 584.8 437.9 C585.7 437.8 587.0 438.9 588.1 438.9 C589.1 438.9 590.1 438.0 591.2 438.1 C592.2 438.1 593.3 439.1 594.3 439.0 C595.3 439.0 596.9 437.5 597.4 437.8 C597.9 438.2 596.9 440.1 597.2 441.0 C597.4 441.9 598.7 442.4 598.9 443.3 C599.1 444.1 597.8 445.3 598.3 445.9 C598.8 446.5 600.9 446.3 601.9 446.8 C603.0 447.2 604.2 447.9 604.8 448.6 C605.5 449.4 605.6 450.4 605.8 451.4 C606.0 452.4 605.4 454.1 605.9 454.7 C606.5 455.2 608.1 454.5 609.1 454.7 C610.1 454.9 611.0 455.8 611.9 455.9 C612.9 456.1 614.0 455.8 614.9 455.6 C615.9 455.5 616.8 455.5 617.6 455.1 C618.4 454.7 618.9 453.5 619.7 453.0 C620.6 452.6 621.7 452.5 622.6 452.4 C623.5 452.3 624.3 452.1 625.1 452.4 C625.9 452.7 626.4 453.9 627.3 454.2 C628.1 454.5 629.2 454.1 630.0 454.3 C630.8 454.5 631.5 455.4 632.3 455.5 C633.1 455.6 634.1 454.8 635.0 454.9 C635.8 455.0 636.6 456.3 637.3 456.1 C638.1 456.0 638.7 454.4 639.6 454.0 C640.4 453.6 641.7 453.6 642.5 453.6 C643.3 453.6 644.0 453.7 644.6 454.1 C645.1 454.6 645.4 455.6 645.8 456.4 C646.2 457.2 646.8 458.0 647.0 458.9 C647.1 459.9 646.1 462.0 646.8 462.2 C647.5 462.5 650.1 461.2 651.0 460.5 C651.9 459.8 652.0 458.8 652.2 457.8 C652.4 456.8 651.9 455.5 652.1 454.6 C652.4 453.6 653.4 453.1 653.8 452.2 C654.2 451.4 654.0 449.9 654.6 449.5 C655.2 449.0 656.7 449.9 657.5 449.6 C658.4 449.4 659.1 447.9 659.8 448.1 C660.4 448.2 660.6 450.0 661.3 450.6 C662.0 451.2 663.7 450.9 664.1 451.7 C664.4 452.4 663.4 454.3 663.6 455.4 C663.8 456.5 664.6 458.0 665.2 458.3 C665.9 458.5 666.9 457.5 667.6 456.8 C668.3 456.1 668.8 454.6 669.6 454.2 C670.4 453.9 671.6 454.7 672.5 454.5 C673.4 454.4 674.0 452.9 674.8 453.1 C675.5 453.3 676.1 455.1 677.0 455.7 C677.9 456.3 679.3 456.2 680.2 456.6 C681.1 457.1 681.4 458.1 682.2 458.3 C683.0 458.6 684.1 457.6 684.9 458.1 C685.7 458.6 686.0 460.5 686.9 461.3 C687.7 462.2 689.1 463.2 690.0 463.2 C691.0 463.1 691.9 462.0 692.6 461.1 C693.3 460.3 693.6 458.6 694.5 458.0 C695.3 457.4 696.7 458.1 697.6 457.7 C698.5 457.3 698.7 456.0 699.7 455.5 C700.6 455.0 702.2 455.2 703.3 454.5 C704.3 453.9 704.8 452.0 705.8 451.7 C706.8 451.5 708.0 452.9 709.1 453.1 C710.2 453.3 711.4 453.1 712.4 453.0 C713.4 452.9 714.1 452.8 714.9 452.4 C715.7 452.0 716.3 451.0 717.2 450.6 C718.1 450.2 719.5 450.3 720.5 449.9 C721.6 449.4 722.4 448.2 723.3 447.9 C724.3 447.5 725.5 448.1 726.3 447.7 C727.2 447.3 727.8 445.6 728.4 445.6 C729.1 445.6 729.5 447.3 730.2 447.9 C731.0 448.5 731.9 448.7 732.8 449.1 C733.6 449.6 734.3 450.5 735.3 450.7 C736.3 450.9 737.7 450.7 738.6 450.5 C739.5 450.3 740.2 450.0 740.8 449.5 C741.4 448.9 741.7 447.7 742.4 447.2 C743.1 446.6 744.3 446.6 745.1 446.3 C746.0 446.1 746.5 445.4 747.3 445.4 C748.0 445.4 748.8 445.9 749.8 446.3 C750.7 446.6 752.0 446.9 753.0 447.5 C754.0 448.2 754.8 449.6 755.7 450.2 C756.6 450.8 757.5 450.6 758.2 451.1 C758.9 451.6 759.2 452.8 759.9 453.3 C760.6 453.8 761.8 453.7 762.6 454.1 C763.4 454.6 763.8 455.7 764.6 456.1 C765.4 456.5 766.7 456.1 767.5 456.6 C768.3 457.1 768.6 458.6 769.5 458.9 C770.3 459.3 771.6 458.5 772.5 458.8 C773.4 459.1 773.8 460.4 774.7 460.8 C775.5 461.1 776.7 460.6 777.5 460.9 C778.4 461.2 778.8 462.5 779.8 462.5 C780.9 462.5 782.8 460.9 783.7 461.1 C784.6 461.3 784.7 463.2 785.4 463.9 C786.2 464.6 787.5 464.6 788.2 465.3 C788.9 466.0 788.9 467.7 789.7 468.0 C790.5 468.2 791.9 466.8 793.0 466.7 C794.0 466.7 795.1 467.9 796.1 467.8 C797.1 467.7 798.0 466.4 799.0 466.3 C800.0 466.1 801.1 467.1 802.1 467.1 C803.1 467.0 804.5 465.6 805.0 466.0 C805.5 466.3 804.9 468.2 805.2 469.1 C805.5 470.0 806.6 470.5 806.8 471.3 C807.1 472.1 806.7 473.6 806.7 474.0"/>
<path d="M159.8 10.5 C158.6 11.4 154.4 14.8 152.3 16.2 C150.2 17.6 148.9 17.2 147.4 18.7 C145.9 20.2 145.5 23.8 143.6 25.0 C141.7 26.2 137.8 25.4 136.1 26.2 C134.4 27.0 133.4 28.1 133.6 30.0 C133.8 31.9 136.6 37.3 137.4 37.5 C138.2 37.7 136.5 32.2 138.6 31.2 C140.7 30.1 147.0 30.6 149.9 31.2 C152.8 31.8 154.9 33.5 156.1 35.0 C157.3 36.5 157.9 38.1 157.3 40.0 C156.7 41.9 154.8 44.5 152.3 46.2 C149.8 47.9 145.7 49.2 142.4 50.0 C139.1 50.8 134.9 50.2 132.4 51.2 C129.9 52.2 127.8 54.5 127.4 56.2 C127.0 57.9 129.9 59.5 129.9 61.2 C129.9 62.9 128.9 65.4 127.4 66.2 C125.9 67.0 123.0 66.0 121.1 66.2 C119.2 66.4 116.7 66.4 116.1 67.4 C115.5 68.4 118.0 70.3 117.4 72.4 C116.8 74.5 112.8 77.4 112.4 79.9 C112.0 82.4 114.3 85.1 114.9 87.4 C115.5 89.7 115.3 92.5 116.1 93.7 C116.9 95.0 119.7 93.5 119.9 94.9 C120.1 96.4 118.0 99.9 117.4 102.4 C116.8 104.9 117.1 107.8 116.1 109.9 C115.0 112.0 112.8 113.7 111.1 114.9 C109.4 116.2 107.1 116.2 106.1 117.4 C105.1 118.7 105.7 120.5 104.9 122.4 C104.1 124.3 101.9 126.3 101.1 128.6 C100.3 130.9 100.7 134.4 99.9 136.1 C99.1 137.8 97.7 139.2 96.2 138.6 C94.8 138.0 93.1 134.3 91.2 132.4 C89.3 130.5 86.8 128.0 84.9 127.4 C83.0 126.8 80.9 127.6 79.9 128.6 C78.9 129.6 77.5 131.7 78.7 133.6 C80.0 135.5 85.5 138.0 87.4 139.9 C89.3 141.8 90.3 142.8 89.9 144.9 C89.5 147.0 86.4 150.1 84.9 152.3 C83.5 154.5 82.0 156.2 81.2 158.0 C80.4 159.8 81.0 161.6 79.9 163.0 C78.9 164.4 74.9 165.4 74.9 166.7 C74.9 167.9 78.0 170.3 79.9 170.5 C81.8 170.7 84.3 168.0 86.2 168.0 C88.1 168.0 90.1 169.2 91.2 170.5 C92.3 171.8 93.3 173.9 92.9 175.5 C92.5 177.1 89.8 179.8 88.7 180.0 C87.6 180.2 86.8 178.1 86.2 176.7 C85.6 175.3 86.0 172.3 84.9 171.7 C83.9 171.1 81.2 171.8 79.9 173.0 C78.7 174.2 77.4 177.5 77.4 179.2 C77.4 180.9 80.1 181.5 79.9 183.0 C79.7 184.5 77.9 186.8 76.2 188.0 C74.5 189.2 71.7 190.5 69.9 190.5 C68.1 190.5 66.7 189.7 65.4 188.0 C64.2 186.3 63.3 182.6 62.4 180.5 C61.5 178.4 61.3 177.0 59.9 175.5 C58.5 174.0 55.2 173.2 53.7 171.7 C52.2 170.2 51.2 168.6 51.2 166.7 C51.2 164.8 52.9 161.9 53.7 160.5 C54.5 159.1 55.7 160.2 56.2 158.0 C56.7 155.8 57.3 149.0 56.9 147.4 C56.5 145.8 55.7 146.8 53.7 148.6 C51.7 150.4 46.7 155.6 45.0 158.0 C43.3 160.4 45.0 162.0 43.7 163.0 C42.5 164.0 39.0 163.4 37.5 164.2 C36.0 165.0 35.0 167.4 34.5 168.0"/>
</g>
<g fill="none" stroke="#000" stroke-width="1" stroke-linejoin="round">
<path d="M811.3 563.0 L817.6 568.0 L823.9 574.3 L826.4 581.8 L825.1 588.1"/>
<path d="M812.6 564.2 L819.6 570.5 L825.1 576.8 L827.6 584.3 L826.6 588.1"/>
<path d="M811.8 561.7 L818.6 567.3 L824.6 573.3 L826.9 580.5 L825.9 588.1"/>
<path d="M813.8 566.3 L820.1 572.3 L824.1 578.8 L825.6 585.6 L824.6 588.1"/>
<path d="M149.9 154.8 L157.3 152.8 L164.8 153.8 L162.3 156.3 L153.6 156.8 Z"/>
<path d="M409.4 354.0 L412.8 351.0 L414.8 346.0 L418.6 341.0 L423.6 339.0 L424.3 341.0 L419.8 344.7 L417.3 349.7 L412.8 353.5 Z"/>
<path d="M829.0 400.5 L832.1 398.5 L835.2 398.9 L838.3 396.8 L842.4 396.4 L845.4 398.1 L844.4 400.5 L841.3 400.1 L839.3 402.2 L835.6 401.4 L833.1 403.0 L830.0 402.6 Z"/>
<path d="M668.0 449.0 L670.0 445.0 L672.5 441.5 L675.0 444.0 L677.0 438.5 L679.5 441.0 L678.0 446.0 L675.0 447.5 L673.0 451.0 L670.0 450.0 Z"/>
</g>
<g fill="none" stroke="#000" stroke-width="1.55" stroke-linecap="butt" stroke-linejoin="miter">
<path d="M77.2 18.2L64.8 5.8M68.0 9.0L69.6 5.9"/>
<path d="M277.7 2.3L264.3 13.7M267.7 10.8L264.8 8.9"/>
<circle cx="121.0" cy="11.0" r="2.65" stroke-width="1.9"/>
<path d="M177.4 4.0L164.6 16.0M167.9 12.9L164.9 11.2"/>
<path d="M227.7 3.3L214.3 14.7M217.7 11.8L214.8 9.9"/>
<circle cx="72.0" cy="62.0" r="2.65" stroke-width="1.9"/>
<path d="M128.7 55.3L115.3 66.7M118.7 63.8L115.8 61.9"/>
<path d="M179.4 54.3L165.9 65.7M169.4 62.7L166.5 60.9"/>
<path d="M229.3 64.3L215.2 53.8M218.8 56.5L220.0 53.2"/>
<path d="M80.3 106.2L67.2 117.9M70.6 114.9L67.6 113.2"/>
<path d="M129.7 104.9L117.0 117.0M120.2 113.9L117.2 112.3"/>
<path d="M179.8 103.8L167.1 116.0M170.3 112.9L167.3 111.3"/>
<path d="M229.7 115.0L216.8 103.1M220.1 106.1L221.6 103.0"/>
<path d="M278.6 52.3L265.5 64.1M268.9 61.1L265.9 59.3"/>
<circle cx="322.0" cy="57.0" r="2.65" stroke-width="1.9"/>
<path d="M378.6 50.3L365.8 62.3M369.1 59.2L366.1 57.5"/>
<path d="M429.1 49.9L415.0 60.4M418.6 57.7L415.8 55.7"/>
<path d="M480.7 51.2L464.0 56.9M468.3 55.4L466.2 52.6"/>
<path d="M528.2 46.8L515.8 59.2L509.7 56.0"/>
<path d="M279.5 101.9L267.3 114.5L261.1 111.4"/>
<path d="M329.4 100.6L317.5 113.5L311.3 110.6"/>
<path d="M379.6 100.1L366.5 111.9M369.9 108.9L366.9 107.1"/>
<path d="M429.7 99.2L416.6 111.0M420.0 108.0L417.0 106.3"/>
<path d="M479.9 98.6L466.0 109.4M469.6 106.7L466.7 104.7"/>
<path d="M529.7 97.3L516.3 108.7L510.5 105.0"/>
<path d="M518.6 106.8L515.7 104.9"/>
<path d="M280.2 164.2L267.8 151.8M271.0 155.0L272.6 151.9"/>
<circle cx="324.0" cy="157.0" r="2.65" stroke-width="1.9"/>
<path d="M382.2 152.7L365.8 159.3M370.0 157.6L367.8 154.9"/>
<path d="M430.7 149.3L417.3 160.7M420.7 157.8L417.8 155.9"/>
<path d="M481.7 158.3L466.3 149.7M470.2 151.9L470.9 148.5"/>
<path d="M530.8 147.4L517.2 158.6L511.4 154.8"/>
<path d="M519.5 156.7L516.6 154.8"/>
<path d="M578.8 46.0L565.7 57.8L559.7 54.3"/>
<path d="M567.9 55.8L564.9 54.0"/>
<path d="M629.3 45.7L614.8 55.7M618.5 53.2L615.8 51.0"/>
<path d="M679.8 45.7L664.3 53.9M668.3 51.8L665.8 49.4"/>
<path d="M729.8 45.2L713.8 52.5M717.9 50.7L715.6 48.1"/>
<path d="M780.6 46.3L763.4 49.7M767.8 48.8L766.1 45.8"/>
<path d="M579.7 96.3L566.3 107.7L560.5 104.0"/>
<path d="M630.5 95.8L616.2 106.0L610.7 101.8"/>
<path d="M681.8 98.0L664.6 101.9M669.0 100.9L667.3 97.9"/>
<path d="M731.9 99.2L714.4 98.7M718.9 98.8L717.9 95.5"/>
<path d="M781.8 98.3L764.2 97.7L762.4 91.0"/>
<path d="M581.3 147.1L566.4 156.4L561.1 151.8"/>
<path d="M630.9 145.2L617.3 156.3L611.6 152.5"/>
<path d="M681.8 145.7L665.8 153.1M669.9 151.2L667.6 148.7"/>
<path d="M732.2 145.2L716.0 152.2M720.1 150.4L717.9 147.8"/>
<path d="M782.7 149.2L765.3 146.8M769.7 147.4L769.2 144.0"/>
<path d="M830.4 47.8L812.9 45.8L811.7 39.0"/>
<path d="M880.5 44.9L863.0 46.6L860.3 40.3"/>
<path d="M930.5 44.7L912.9 45.2L910.7 38.6"/>
<path d="M980.1 47.3L963.7 41.0L964.1 34.1"/>
<path d="M1030.5 45.3L1013.4 41.0L1013.0 34.1"/>
<path d="M1016.3 41.7L1016.1 38.3"/>
<path d="M831.6 97.6L814.1 95.6L812.8 88.8"/>
<path d="M881.3 96.8L863.8 94.9L862.5 88.1"/>
<path d="M930.5 94.9L912.9 94.9L910.8 88.3"/>
<path d="M981.5 93.4L963.9 94.2L961.6 87.7"/>
<path d="M1031.2 94.1L1013.7 91.6M1018.2 92.3L1017.7 88.9"/>
<path d="M832.0 149.4L815.2 144.2M819.5 145.6L819.5 142.1"/>
<path d="M880.9 150.8L866.5 140.8M870.2 143.4L871.2 140.1"/>
<path d="M930.8 150.0L916.8 139.4M920.3 142.1L921.5 138.8"/>
<path d="M981.6 147.1L965.4 140.4M969.5 142.1L969.9 138.7"/>
<path d="M1032.3 144.2L1014.9 141.7M1019.3 142.3L1018.8 138.9"/>
<path d="M81.0 156.7L67.0 167.3M70.6 164.6L67.8 162.6"/>
<path d="M130.7 155.3L117.3 166.7M120.7 163.8L117.8 161.9"/>
<path d="M182.6 158.0L165.4 162.0M169.8 161.0L168.1 158.0"/>
<path d="M230.6 164.8L217.4 153.2M220.8 156.2L222.1 153.0"/>
<circle cx="75.0" cy="212.0" r="2.65" stroke-width="1.9"/>
<circle cx="125.0" cy="211.0" r="2.65" stroke-width="1.9"/>
<path d="M182.2 204.1L168.5 215.1M172.0 212.3L169.1 210.4"/>
<path d="M232.1 203.1L218.9 214.8M222.3 211.8L219.3 210.0"/>
<path d="M83.0 256.2L69.8 267.7M73.2 264.8L70.2 263.0"/>
<path d="M132.9 254.8L119.9 266.6M123.2 263.6L120.2 261.8"/>
<path d="M185.2 261.1L167.8 258.3M172.2 259.0L171.8 255.6"/>
<path d="M233.7 253.5L219.6 264.0M223.2 261.3L220.4 259.3"/>
<path d="M34.6 308.6L19.4 317.4M23.3 315.1L20.7 312.8"/>
<path d="M36.8 362.2L19.2 363.8M23.7 363.4L22.4 360.2"/>
<path d="M37.7 411.5L20.3 414.5M24.8 413.7L23.2 410.7"/>
<path d="M38.3 466.0L21.7 460.0M26.0 461.5L26.1 458.1"/>
<path d="M39.8 512.2L22.2 513.8M26.7 513.4L25.4 510.2"/>
<path d="M39.6 558.6L24.4 567.4M28.3 565.1L25.7 562.8"/>
<path d="M84.7 305.8L70.7 316.5M74.3 313.8L71.5 311.8"/>
<circle cx="127.0" cy="311.0" r="2.65" stroke-width="1.9"/>
<path d="M186.2 311.2L168.9 308.2M173.3 308.9L172.8 305.5"/>
<path d="M234.2 302.7L221.1 314.5M224.4 311.5L221.5 309.7"/>
<path d="M282.8 203.0L268.1 212.7M271.9 210.2L269.2 208.1"/>
<path d="M332.6 201.8L318.2 211.9M321.9 209.3L319.2 207.2"/>
<path d="M381.7 200.1L368.5 211.8L362.6 208.2"/>
<circle cx="425.0" cy="205.0" r="2.65" stroke-width="1.9"/>
<path d="M481.7 197.8L468.5 209.5M471.9 206.5L468.9 204.7"/>
<path d="M531.8 197.5L518.2 208.5L512.4 204.7"/>
<path d="M520.5 206.7L517.6 204.7"/>
<path d="M284.4 253.6L268.8 261.9M272.8 259.8L270.4 257.4"/>
<path d="M334.5 253.2L318.3 260.2M322.5 258.4L320.2 255.8"/>
<path d="M382.9 250.0L369.5 261.4M372.9 258.5L370.0 256.6"/>
<path d="M432.9 248.8L419.4 260.0M422.9 257.1L420.0 255.2"/>
<circle cx="476.0" cy="254.0" r="2.65" stroke-width="1.9"/>
<path d="M532.7 247.3L519.3 258.7L513.5 255.0"/>
<path d="M521.6 256.8L518.7 254.9"/>
<path d="M284.1 301.9L270.6 313.1M274.1 310.2L271.2 308.3"/>
<path d="M334.3 300.8L320.5 311.8M324.0 309.0L321.2 307.0"/>
<path d="M384.1 299.9L370.5 311.1M374.0 308.2L371.1 306.3"/>
<path d="M434.0 298.9L420.6 310.2M424.0 307.3L421.1 305.5"/>
<path d="M483.9 298.0L470.6 309.5M474.0 306.6L471.1 304.7"/>
<path d="M533.7 297.3L520.3 308.7L514.4 304.9"/>
<path d="M522.6 306.7L519.7 304.9"/>
<path d="M581.3 195.9L568.6 208.1L562.6 204.7"/>
<path d="M632.2 195.8L617.5 205.4M621.2 203.0L618.6 200.8"/>
<path d="M683.6 198.2L666.2 201.2M670.7 200.5L669.1 197.4"/>
<path d="M733.5 200.6L716.3 196.9M720.7 197.9L720.4 194.4"/>
<path d="M783.4 200.6L766.6 195.4M770.9 196.7L770.9 193.3"/>
<path d="M582.7 246.0L569.8 257.9L563.8 254.5"/>
<path d="M572.0 255.9L569.0 254.2"/>
<path d="M633.4 245.8L618.4 255.0M622.2 252.6L619.6 250.4"/>
<circle cx="676.0" cy="250.0" r="2.65" stroke-width="1.9"/>
<path d="M732.4 255.0L719.7 242.9M722.9 246.0L724.5 242.9"/>
<path d="M782.6 253.8L769.4 242.2L772.1 235.9"/>
<path d="M583.4 295.8L571.0 308.3L564.9 305.1"/>
<path d="M573.1 306.2L570.1 304.5"/>
<path d="M633.3 295.0L620.2 306.7L614.3 303.1"/>
<circle cx="677.0" cy="300.0" r="2.65" stroke-width="1.9"/>
<path d="M733.1 305.0L720.4 292.8M723.7 296.0L725.2 292.9"/>
<path d="M784.0 303.3L770.0 292.7L772.3 286.2"/>
<path d="M833.4 196.9L815.8 196.9M820.3 196.9L819.3 193.6"/>
<path d="M883.0 198.2L866.0 193.4M870.4 194.6L870.3 191.2"/>
<circle cx="925.0" cy="195.0" r="2.65" stroke-width="1.9"/>
<path d="M981.8 198.8L967.3 188.8M971.0 191.4L972.0 188.1"/>
<path d="M1032.7 195.3L1015.8 190.3M1020.2 191.6L1020.1 188.1"/>
<path d="M831.8 252.7L819.0 240.6L822.1 234.4"/>
<path d="M882.4 251.9L869.2 240.2L872.1 233.9"/>
<path d="M934.2 246.8L917.2 242.3M921.5 243.5L921.4 240.0"/>
<path d="M982.9 248.6L968.4 238.6M972.1 241.2L973.1 237.9"/>
<path d="M1033.4 245.2L1016.6 239.8M1020.9 241.2L1020.9 237.7"/>
<path d="M833.1 302.7L820.3 290.6L823.3 284.4"/>
<path d="M883.6 301.3L869.7 290.6M873.2 293.3L874.4 290.1"/>
<path d="M933.3 300.6L919.8 289.3M923.3 292.2L924.6 289.0"/>
<path d="M982.2 298.6L969.1 286.9M972.4 289.9L973.9 286.7"/>
<path d="M1034.6 296.8L1019.3 288.0M1023.2 290.2L1024.0 286.9"/>
<circle cx="78.0" cy="362.0" r="2.65" stroke-width="1.9"/>
<path d="M136.9 358.5L119.8 362.6M124.1 361.6L122.4 358.6"/>
<path d="M187.1 361.1L169.7 358.6M174.2 359.3L173.6 355.9"/>
<circle cx="228.0" cy="359.0" r="2.65" stroke-width="1.9"/>
<circle cx="79.0" cy="412.0" r="2.65" stroke-width="1.9"/>
<path d="M138.2 412.3L120.9 409.2M125.3 410.0L124.9 406.6"/>
<path d="M186.3 404.0L172.6 415.0M176.1 412.2L173.2 410.3"/>
<path d="M237.0 404.0L222.0 413.2M225.8 410.8L223.2 408.5"/>
<path d="M88.0 466.4L72.9 457.4M76.8 459.7L77.6 456.3"/>
<circle cx="130.0" cy="461.0" r="2.65" stroke-width="1.9"/>
<path d="M187.0 465.8L174.1 453.8M177.4 456.9L178.8 453.8"/>
<path d="M238.5 455.5L222.2 462.2M226.4 460.4L224.2 457.8"/>
<path d="M285.7 362.5L271.0 352.7M274.8 355.2L275.8 351.9"/>
<circle cx="328.0" cy="357.0" r="2.65" stroke-width="1.9"/>
<path d="M387.0 355.1L369.4 356.3M373.9 356.0L372.6 352.7"/>
<path d="M434.4 348.4L422.2 361.1L416.0 358.0"/>
<path d="M484.5 347.6L471.8 359.8M475.0 356.7L472.0 355.0"/>
<path d="M287.7 405.7L270.6 409.8M274.9 408.8L273.2 405.8"/>
<path d="M336.7 402.2L321.3 410.8M325.3 408.6L322.8 406.2"/>
<path d="M385.5 399.5L372.8 411.7L366.7 408.4"/>
<path d="M435.5 398.8L422.5 410.6M425.8 407.6L422.8 405.8"/>
<path d="M485.3 397.8L472.9 410.2L466.7 407.0"/>
<path d="M287.6 452.3L273.7 463.1L268.0 459.1"/>
<path d="M338.4 453.7L321.9 459.8M326.1 458.2L324.0 455.5"/>
<path d="M386.7 449.9L373.4 461.4M376.8 458.4L373.9 456.6"/>
<path d="M436.6 448.8L423.6 460.6M426.9 457.6L423.9 455.8"/>
<path d="M486.7 447.8L473.7 459.6L467.7 456.1"/>
<path d="M475.9 457.6L472.9 455.8"/>
<path d="M534.8 346.3L523.1 359.5L516.9 356.6"/>
<path d="M525.1 357.3L522.0 355.8"/>
<path d="M584.5 345.6L571.7 357.7L565.7 354.3"/>
<path d="M573.9 355.6L570.9 353.9"/>
<path d="M634.4 344.7L621.7 356.9L615.6 353.5"/>
<path d="M685.8 345.7L670.1 353.7M674.1 351.6L671.7 349.1"/>
<circle cx="728.0" cy="349.0" r="2.65" stroke-width="1.9"/>
<path d="M784.5 353.9L771.5 342.1L774.4 335.8"/>
<path d="M535.4 395.8L523.8 409.1L517.5 406.3"/>
<path d="M525.8 406.8L522.6 405.4"/>
<path d="M585.5 395.7L572.4 407.5L566.5 404.0"/>
<path d="M574.7 405.5L571.7 403.8"/>
<path d="M635.2 394.7L622.4 406.8L616.4 403.4"/>
<path d="M685.7 393.8L672.3 405.2M675.7 402.3L672.8 400.5"/>
<path d="M737.3 401.5L720.5 396.1M724.8 397.5L724.8 394.1"/>
<path d="M785.9 403.4L772.1 392.6L774.5 386.1"/>
<path d="M536.3 446.4L524.0 459.0L517.8 455.9"/>
<path d="M526.1 456.9L523.0 455.3"/>
<path d="M586.4 445.6L573.6 457.6L567.5 454.2"/>
<path d="M636.2 444.9L622.8 456.3L617.0 452.6"/>
<path d="M686.9 444.1L673.3 455.2L667.5 451.3"/>
<circle cx="730.0" cy="449.0" r="2.65" stroke-width="1.9"/>
<path d="M786.5 453.9L773.5 442.1L776.4 435.8"/>
<path d="M833.9 352.6L821.5 340.2L824.7 334.1"/>
<path d="M884.4 351.6L871.3 339.8L874.2 333.6"/>
<path d="M934.2 350.6L921.3 338.6L924.3 332.4"/>
<path d="M985.0 349.2L971.0 338.6M974.6 341.3L975.8 338.1"/>
<path d="M1034.1 347.8L1020.2 336.9M1023.8 339.7L1025.0 336.5"/>
<path d="M835.5 401.8L820.8 392.1L822.7 385.4"/>
<path d="M884.9 402.0L872.5 389.6M875.7 392.8L877.3 389.7"/>
<path d="M935.6 400.1L922.1 388.8M925.5 391.7L926.9 388.5"/>
<path d="M985.1 399.8L972.6 387.3M975.8 390.5L977.4 387.4"/>
<path d="M1034.6 398.2L1021.3 386.6M1024.7 389.6L1026.1 386.4"/>
<path d="M836.3 452.1L822.8 440.9M826.3 443.8L827.6 440.6"/>
<path d="M888.6 445.3L871.0 445.3M875.5 445.3L874.4 442.0"/>
<path d="M936.3 450.2L922.8 438.9M926.3 441.8L927.6 438.6"/>
<circle cx="980.0" cy="444.0" r="2.65" stroke-width="1.9"/>
<path d="M1035.1 447.7L1021.8 436.1M1025.2 439.0L1026.6 435.9"/>
<path d="M88.1 517.9L75.3 505.9M78.6 509.0L80.1 505.9"/>
<circle cx="131.0" cy="511.0" r="2.65" stroke-width="1.9"/>
<path d="M188.2 504.0L174.5 515.0M178.0 512.2L175.1 510.2"/>
<path d="M240.3 509.5L222.8 507.5M227.2 508.0L226.6 504.6"/>
<path d="M91.6 560.6L74.1 562.4M78.6 561.9L77.2 558.8"/>
<path d="M140.2 555.8L125.0 564.7M128.8 562.4L126.3 560.1"/>
<circle cx="182.0" cy="560.0" r="2.65" stroke-width="1.9"/>
<path d="M239.0 552.4L225.9 564.3M229.3 561.2L226.3 559.5"/>
<path d="M288.8 502.7L274.1 512.4M277.8 509.9L275.2 507.7"/>
<path d="M338.8 501.6L324.1 511.4M327.9 508.9L325.2 506.7"/>
<path d="M388.3 500.3L374.2 510.7M377.8 508.0L375.0 506.0"/>
<path d="M437.6 498.8L424.5 510.5M427.8 507.5L424.9 505.7"/>
<path d="M487.6 497.6L474.4 509.3L468.5 505.8"/>
<path d="M289.4 552.3L275.1 562.6M278.7 560.0L276.0 557.9"/>
<path d="M340.7 554.3L323.7 558.9M328.1 557.7L326.2 554.8"/>
<path d="M389.2 550.2L375.1 560.7M378.7 558.0L375.9 556.0"/>
<path d="M439.0 548.8L425.4 560.0L419.6 556.2"/>
<path d="M488.6 547.6L475.3 559.1M478.7 556.2L475.8 554.3"/>
<path d="M538.0 497.1L524.5 508.3L518.7 504.5"/>
<path d="M526.8 506.4L523.9 504.5"/>
<path d="M588.2 496.4L574.3 507.1L568.7 503.1"/>
<path d="M638.7 496.5L623.0 504.5M627.0 502.4L624.6 500.0"/>
<path d="M689.1 503.1L672.9 496.3M677.0 498.0L677.3 494.6"/>
<path d="M737.0 505.0L724.8 492.3M727.9 495.5L729.6 492.5"/>
<path d="M788.6 502.4L773.4 493.6M777.3 495.9L778.0 492.5"/>
<path d="M539.3 546.8L525.4 557.6L519.7 553.6"/>
<path d="M527.8 555.7L524.9 553.8"/>
<path d="M589.6 546.7L574.9 556.4L569.5 552.0"/>
<path d="M639.8 546.6L624.0 554.3M628.0 552.4L625.6 549.9"/>
<path d="M688.3 555.2L675.4 543.3M678.7 546.4L680.2 543.2"/>
<path d="M738.4 554.6L725.9 542.1M729.1 545.3L730.7 542.2"/>
<path d="M788.7 553.7L775.3 542.3L777.9 536.0"/>
<path d="M837.8 501.8L823.6 491.5M827.2 494.1L828.3 490.9"/>
<circle cx="881.0" cy="496.0" r="2.65" stroke-width="1.9"/>
<path d="M937.3 500.9L924.5 488.8M927.8 491.9L929.3 488.8"/>
<path d="M987.0 487.2L974.6 499.6M977.7 496.4L974.7 494.8"/>
<path d="M1037.0 486.6L1025.0 499.4M1028.1 496.1L1025.0 494.6"/>
<path d="M838.9 551.7L824.9 541.1M828.5 543.8L829.6 540.6"/>
<path d="M890.4 543.7L873.1 546.9L869.9 540.8"/>
<path d="M940.0 547.5L923.4 541.7M927.7 543.2L927.8 539.7"/>
<path d="M988.8 537.8L975.0 548.8M978.5 546.0L975.7 544.0"/>
<path d="M1038.4 537.0L1025.6 549.0M1028.9 545.9L1025.9 544.2"/>
</g>
<g fill="none" stroke="#ff0000" stroke-width="1.9" stroke-linejoin="round" stroke-linecap="round">
<path d="M682.8 94.4 C683.5 93.9 684.1 93.1 686.1 93.7 C688.1 94.2 692.9 96.7 694.8 97.9 C696.8 99.1 697.6 99.8 697.8 100.6 C698.0 101.5 697.0 102.9 696.1 103.1 C695.2 103.4 694.2 103.0 692.3 102.4 C690.5 101.8 686.5 100.3 684.8 99.4 C683.2 98.5 682.7 97.7 682.3 96.9 C682.0 96.1 682.2 94.9 682.8 94.4 Z"/>
<path d="M756.0 106.9 C757.5 106.7 759.3 108.3 761.0 109.9 C762.7 111.4 765.4 114.3 766.0 116.1 C766.6 118.0 765.8 120.3 764.8 121.1 C763.7 122.0 761.4 122.0 759.8 121.1 C758.1 120.3 756.0 117.8 754.8 116.1 C753.5 114.5 752.1 112.7 752.3 111.1 C752.5 109.6 754.6 107.1 756.0 106.9 Z"/>
<path d="M910.4 226.2 C911.3 226.2 913.3 226.5 914.1 227.7 C915.0 228.9 914.7 231.2 915.4 233.2 C916.0 235.2 917.4 237.6 917.9 239.5 C918.4 241.4 918.6 242.8 918.4 244.5 C918.2 246.2 916.9 247.8 916.6 249.5 C916.3 251.2 917.3 253.1 916.6 254.5 C916.0 256.0 914.3 257.0 912.9 258.3 C911.4 259.5 909.5 261.1 907.9 262.0 C906.2 263.0 904.4 263.8 902.8 263.8 C901.3 263.8 899.4 263.2 898.3 262.0 C897.3 260.9 896.7 258.9 896.6 257.0 C896.4 255.1 896.7 252.8 897.3 250.8 C897.9 248.7 899.2 246.6 900.3 244.5 C901.5 242.4 903.0 240.3 904.1 238.2 C905.1 236.1 905.9 233.7 906.6 232.0 C907.3 230.2 907.7 228.7 908.4 227.7 C909.0 226.7 909.4 226.2 910.4 226.2 Z"/>
<path d="M932.9 268.8 C933.1 268.2 935.0 267.8 936.7 268.3 C938.4 268.8 940.2 271.0 942.9 272.1 C945.7 273.1 951.1 273.9 953.0 274.6 C954.9 275.3 954.6 275.5 954.2 276.3 C953.8 277.2 951.9 279.0 950.5 279.6 C949.0 280.1 947.1 280.2 945.5 279.6 C943.8 279.0 942.1 277.1 940.4 275.8 C938.8 274.6 936.7 273.2 935.4 272.1 C934.2 270.9 932.7 269.4 932.9 268.8 Z"/>
<path d="M965.5 280.8 C966.2 280.2 968.4 279.9 969.3 280.3 C970.1 280.8 970.7 282.4 970.5 283.3 C970.3 284.3 968.9 285.7 968.0 285.9 C967.1 286.0 965.4 284.9 965.0 284.1 C964.6 283.3 964.8 281.5 965.5 280.8 Z"/>
<path d="M859.2 319.8 C859.6 319.4 860.8 319.4 861.2 319.8 C861.6 320.1 861.9 321.4 861.7 322.0 C861.6 322.6 860.7 323.5 860.2 323.5 C859.8 323.5 859.1 322.6 859.0 322.0 C858.8 321.4 858.8 320.1 859.2 319.8 Z"/>
<path d="M978.0 328.5 C978.9 326.7 981.0 324.4 983.1 323.5 C985.1 322.6 988.6 322.4 990.6 323.0 C992.5 323.6 994.4 325.5 994.8 327.3 C995.3 329.0 994.2 331.7 993.1 333.5 C992.0 335.4 990.0 337.5 988.1 338.6 C986.2 339.6 983.5 340.4 981.8 339.8 C980.1 339.2 978.7 336.7 978.0 334.8 C977.4 332.9 977.2 330.4 978.0 328.5 Z"/>
<path d="M876.5 391.2 C876.8 389.7 878.8 388.1 880.3 387.4 C881.7 386.8 884.0 386.8 885.3 387.4 C886.5 388.1 887.6 389.7 887.8 391.2 C888.0 392.7 887.4 395.0 886.5 396.2 C885.7 397.5 884.2 398.6 882.8 398.7 C881.4 398.8 879.3 398.0 878.3 396.7 C877.2 395.5 876.2 392.8 876.5 391.2 Z"/>
<path d="M916.3 462.1 C917.5 460.6 920.9 458.5 923.5 458.0 C926.0 457.5 929.3 457.7 931.7 459.1 C934.1 460.4 937.0 463.5 937.8 466.2 C938.7 469.0 937.8 473.3 936.8 475.5 C935.8 477.7 933.4 479.2 931.7 479.6 C930.0 479.9 927.7 478.9 926.6 477.5 C925.4 476.2 925.5 472.6 924.5 471.4 C923.5 470.2 921.8 471.0 920.4 470.3 C919.0 469.7 917.0 468.6 916.3 467.3 C915.6 465.9 915.1 463.7 916.3 462.1 Z"/>
<path d="M827.6 460.9 C826.4 460.1 822.4 457.8 820.1 456.4 C817.8 455.0 815.3 454.1 813.8 452.6 C812.4 451.2 811.3 449.5 811.3 447.6 C811.3 445.7 812.4 443.2 813.8 441.3 C815.3 439.5 818.2 437.8 820.1 436.3 C822.0 434.9 824.0 434.7 825.1 432.6 C826.3 430.5 827.3 426.5 827.1 423.8 C826.9 421.1 824.6 418.6 823.9 416.3 C823.1 414.0 822.2 411.9 822.6 410.0 C823.0 408.1 824.9 406.0 826.4 405.0 C827.8 404.0 830.1 403.3 831.4 403.7 C832.6 404.2 833.2 406.0 833.9 407.5 C834.6 409.0 834.6 411.3 835.7 412.5 C836.7 413.8 838.2 414.4 840.2 415.0 C842.2 415.6 845.2 415.4 847.7 416.3 C850.2 417.1 852.7 418.4 855.2 420.0 C857.7 421.7 860.4 424.6 862.7 426.3 C865.0 428.0 866.9 429.0 869.0 430.1 C871.1 431.1 873.6 431.1 875.3 432.6 C876.9 434.0 878.2 436.5 879.0 438.8 C879.9 441.1 880.1 443.6 880.3 446.4 C880.5 449.1 880.9 452.2 880.3 455.1 C879.6 458.1 877.4 460.8 876.5 463.9 C875.6 467.0 875.0 471.6 874.8 473.9 C874.6 476.2 875.1 476.5 875.3 477.8 C875.4 479.0 875.7 480.9 875.8 481.5"/>
</g>
<text x="848" y="486" transform="rotate(30 848 481)" font-family="'DejaVu Sans','Liberation Sans',sans-serif" font-size="15.5" fill="#ff0000" text-anchor="middle">18</text>
</g>
<rect x="34.5" y="10.5" width="998" height="580" fill="none" stroke="#000" stroke-width="1"/>
<rect x="34.5" y="587.5" width="93.8" height="12.0" fill="#50509b"/>
<rect x="128.0" y="587.5" width="95.4" height="12.0" fill="#4a18a8"/>
<rect x="223.2" y="587.5" width="95.4" height="12.0" fill="#cc99ff"/>
<rect x="318.3" y="587.5" width="95.4" height="12.0" fill="#3070e0"/>
<rect x="413.5" y="587.5" width="95.4" height="12.0" fill="#208848"/>
<rect x="508.6" y="587.5" width="95.4" height="12.0" fill="#98a010"/>
<rect x="603.7" y="587.5" width="95.4" height="12.0" fill="#ff7000"/>
<rect x="698.9" y="587.5" width="95.4" height="12.0" fill="#cc0000"/>
<rect x="794.0" y="587.5" width="95.4" height="12.0" fill="#a00020"/>
<rect x="889.2" y="587.5" width="95.4" height="12.0" fill="#f840a0"/>
<polygon points="984.2,587.5 984.5,587.5 1032.0,593.5 984.5,599.5 984.2,599.5" fill="#ff99cc"/>
<path d="M34.5 587.5 H984.5 L1032 593.5 L984.5 599.5 H34.5 Z" fill="none" stroke="#000" stroke-width="1.2" stroke-linejoin="miter"/>
<line x1="34.5" y1="593.5" x2="34.5" y2="599.5" stroke="#000" stroke-width="0.8"/>
<line x1="224.5" y1="593.5" x2="224.5" y2="599.5" stroke="#000" stroke-width="0.8"/>
<line x1="414.5" y1="593.5" x2="414.5" y2="599.5" stroke="#000" stroke-width="0.8"/>
<line x1="604.5" y1="593.5" x2="604.5" y2="599.5" stroke="#000" stroke-width="0.8"/>
<line x1="794.5" y1="593.5" x2="794.5" y2="599.5" stroke="#000" stroke-width="0.8"/>
<line x1="984.5" y1="593.5" x2="984.5" y2="599.5" stroke="#000" stroke-width="0.8"/>
<text x="34.5" y="619" font-family="'DejaVu Sans','Liberation Sans',sans-serif" font-size="15.9" text-anchor="middle" fill="#000">10.00</text>
<text x="224.5" y="619" font-family="'DejaVu Sans','Liberation Sans',sans-serif" font-size="15.9" text-anchor="middle" fill="#000">14.00</text>
<text x="414.5" y="619" font-family="'DejaVu Sans','Liberation Sans',sans-serif" font-size="15.9" text-anchor="middle" fill="#000">18.00</text>
<text x="604.5" y="619" font-family="'DejaVu Sans','Liberation Sans',sans-serif" font-size="15.9" text-anchor="middle" fill="#000">22.00</text>
<text x="794.5" y="619" font-family="'DejaVu Sans','Liberation Sans',sans-serif" font-size="15.9" text-anchor="middle" fill="#000">26.00</text>
<text x="984.5" y="619" font-family="'DejaVu Sans','Liberation Sans',sans-serif" font-size="15.9" text-anchor="middle" fill="#000">30.00</text>
<rect x="277.5" y="14.5" width="512" height="26" fill="#fff" fill-opacity="0.65" stroke="#000" stroke-opacity="0.6" stroke-width="1"/>
<text id="title" x="282.5" y="32.2" font-family="'DejaVu Sans','Liberation Sans',sans-serif" font-weight="bold" font-style="italic" font-size="15.28" fill="#000">850 mb height (m), wind (m/s), T (C) Valid: 201805170700</text>
</svg>
</body></html>
